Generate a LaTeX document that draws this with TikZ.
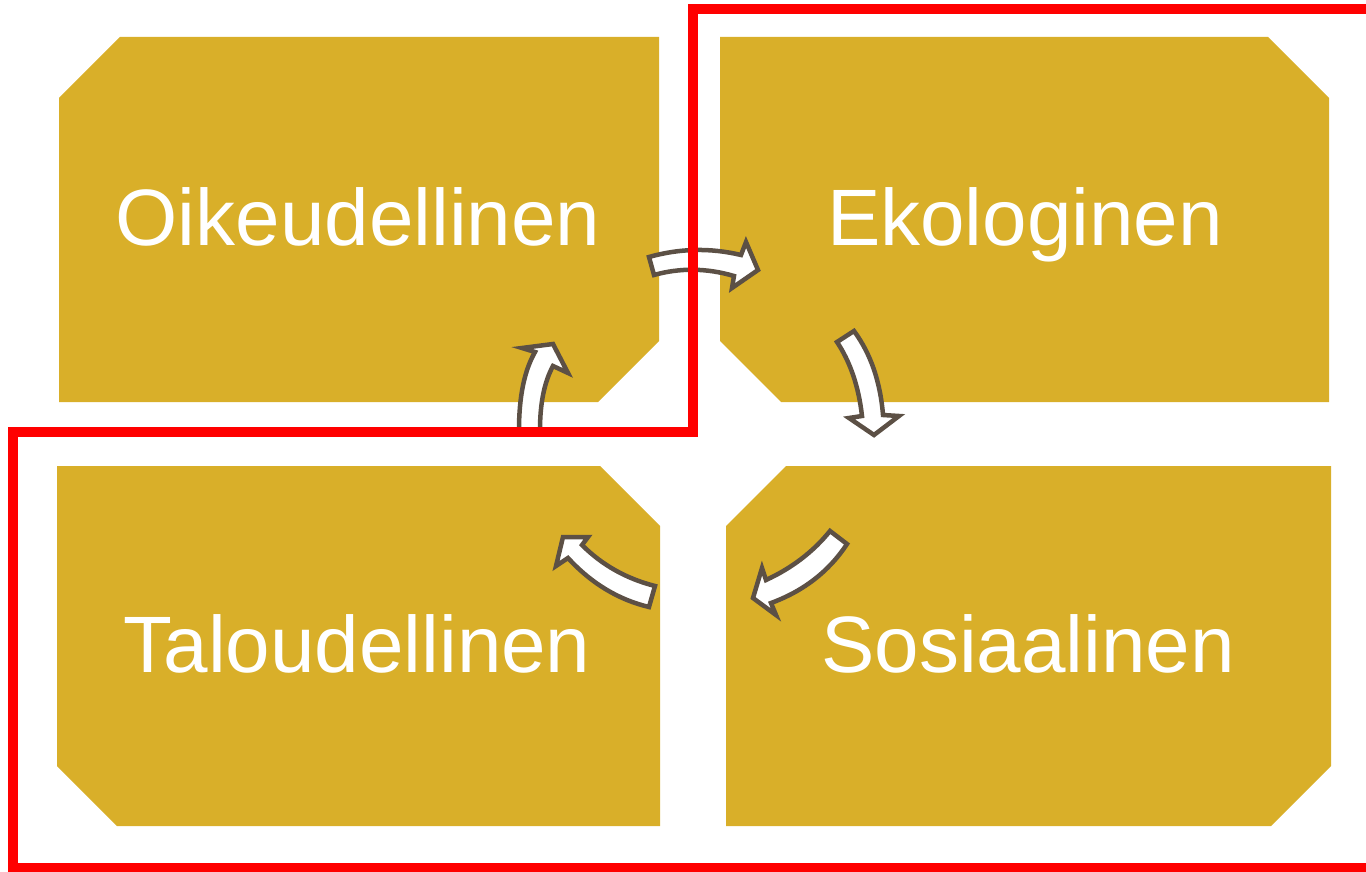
\documentclass[tikz,border=0pt]{standalone}
\usepackage{fontspec}
\setmainfont{Liberation Sans}
\definecolor{panelgold}{RGB}{217,175,41}
\definecolor{arrowrim}{RGB}{92,80,69}

\begin{document}
\begin{tikzpicture}[x=1pt,y=-1pt,
  panel/.style={fill=panelgold},
  paneltext/.style={text=white,font=\fontsize{80}{96}\selectfont,anchor=base,inner sep=0pt},
  cyclearrow/.style={fill=white,draw=arrowrim,line width=4.5pt,line join=miter},
  redframe/.style={draw=red,line width=10pt}]
\useasboundingbox (0,0) rectangle (1366,872);

% the four panels
\fill[panel] (120,37) -- (659,37) -- (659,341) -- (598,402) -- (59,402) -- (59,98) -- cycle;
\fill[panel] (720,37) -- (1268,37) -- (1329,98) -- (1329,402) -- (781,402) -- (720,341) -- cycle;
\fill[panel] (57,466) -- (600,466) -- (660,526) -- (660,826) -- (117,826) -- (57,766) -- cycle;
\fill[panel] (786,466) -- (1331,466) -- (1331,766) -- (1271,826) -- (726,826) -- (726,526) -- cycle;

\node[paneltext] (oikeus) at (358,245) {Oikeudellinen};
\node[paneltext] (ekolo) at (1025,245) {Ekologinen};
\node[paneltext] (talous) at (357,672) {Taloudellinen};
\node[paneltext] (sosiaal) at (1028,672) {Sosiaalinen};

% cycle arrows
\draw[cyclearrow] (649,257) .. controls (679.7,248.3) and (710.3,247.7) .. (741,255) -- (746,242) -- (758,270)
  -- (732,288) -- (734,276) .. controls (706.7,268) and (680,267.7) .. (654,275) -- cycle;
\draw[cyclearrow] (837,342) .. controls (850.3,362) and (858.7,386.7) .. (862,416) -- (849,418) -- (874,435)
  -- (899,416) -- (883,415) .. controls (880.3,381.7) and (870.7,353.7) .. (854,331) -- cycle;
\draw[cyclearrow] (830,531) .. controls (813.3,551.7) and (792,568) .. (766,580) -- (762,568) -- (753,598)
  -- (776,615) -- (771,603) .. controls (803.7,591) and (829,571.3) .. (847,544) -- cycle;
\draw[cyclearrow] (655,586) .. controls (626.3,578.7) and (602,565) .. (582,545) -- (588,537) -- (563,537)
  -- (556,566) -- (568,558) .. controls (591.3,583.3) and (618.3,599.7) .. (649,607) -- cycle;
\draw[cyclearrow] (519,430) .. controls (519,396.7) and (524.3,370.7) .. (535,352) -- (522,348) -- (553,344)
  -- (568,373) -- (553,366) .. controls (544.3,382) and (540,403.3) .. (540,430) -- cycle;

% red outline
\draw[redframe] (1366,9) -- (693,9) -- (693,432) -- (13,432) -- (13,868) -- (1366,868);
\end{tikzpicture}
\end{document}
